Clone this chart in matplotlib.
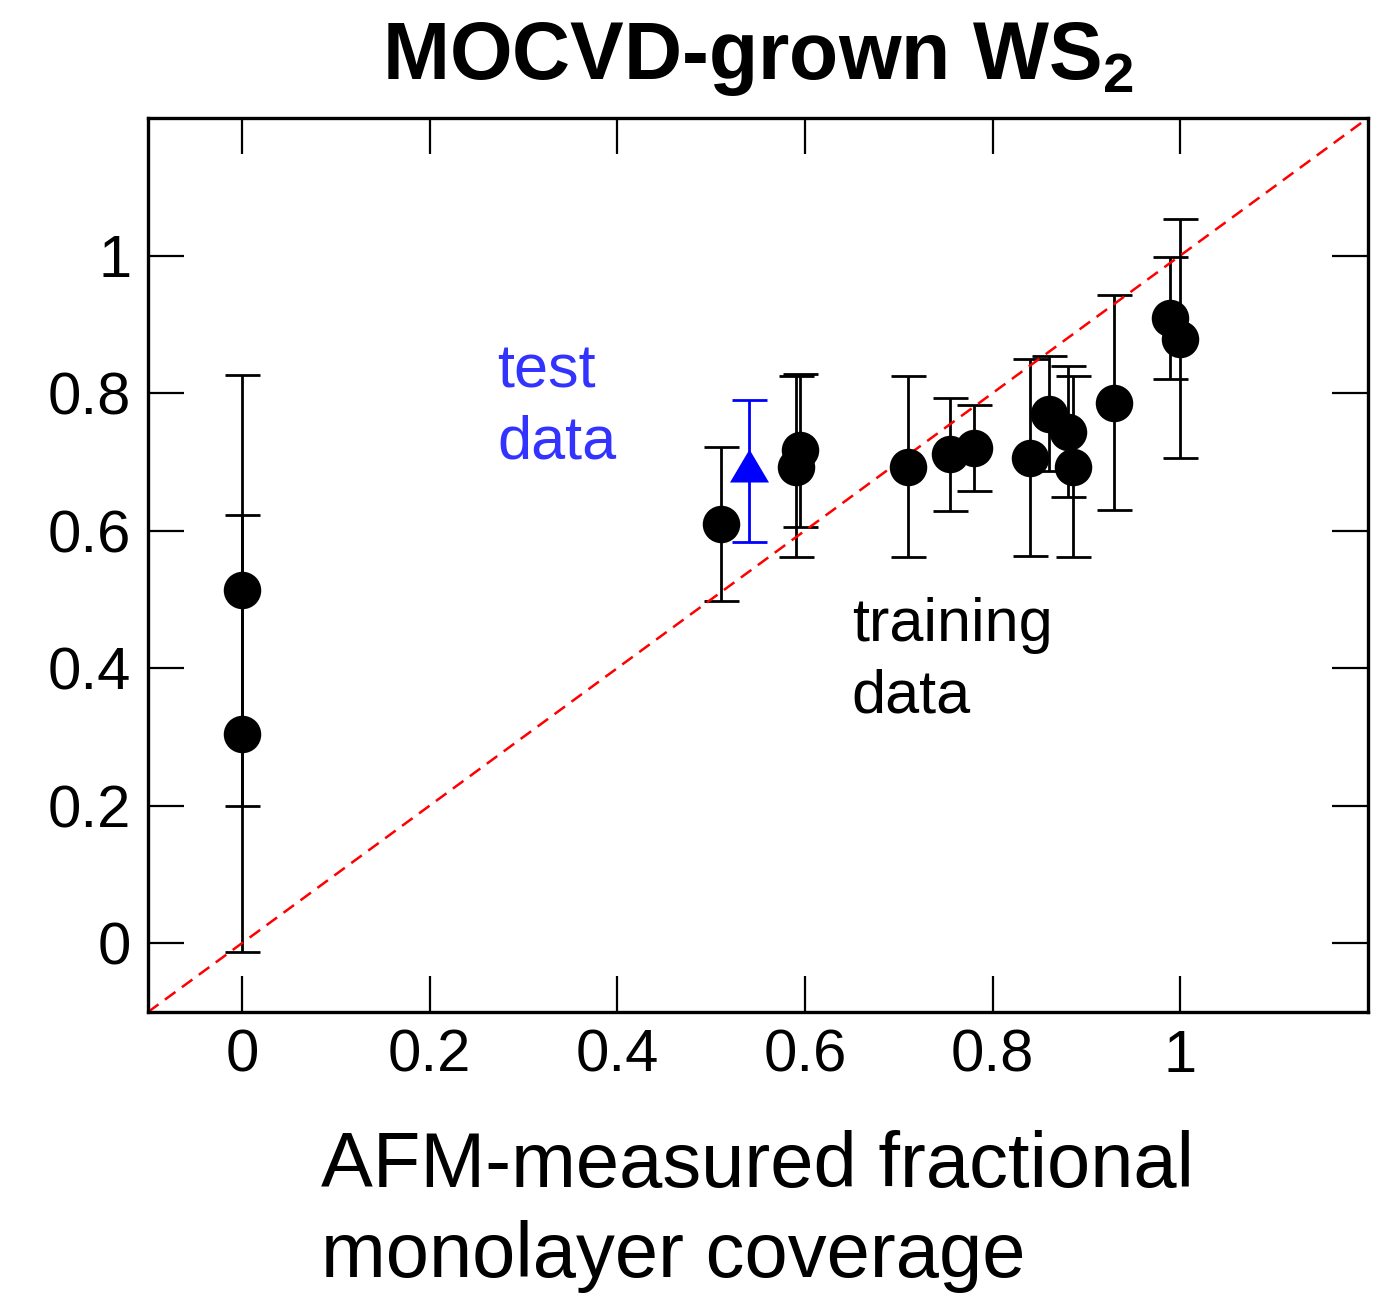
import matplotlib
matplotlib.use("Agg")
import matplotlib.pyplot as plt
from matplotlib.ticker import FixedLocator, FuncFormatter

# ---------------------------------------------------------------------------
# Data
# ---------------------------------------------------------------------------
x_train = [0.0, 0.0, 0.511, 0.590, 0.595, 0.710, 0.755, 0.780,
           0.840, 0.860, 0.880, 0.886, 0.929, 0.989, 1.000]
y_train = [0.513, 0.305, 0.610, 0.693, 0.717, 0.693, 0.711, 0.720,
           0.706, 0.770, 0.744, 0.693, 0.786, 0.909, 0.879]
err_train = [0.313, 0.318, 0.112, 0.132, 0.111, 0.132, 0.082, 0.063,
             0.143, 0.084, 0.095, 0.132, 0.156, 0.089, 0.174]

x_test = [0.540]
y_test = [0.687]
err_test = [0.103]

tick_values = [0, 0.2, 0.4, 0.6, 0.8, 1.0]
parity = [-0.1, 1.2]

# ---------------------------------------------------------------------------
# Style
# ---------------------------------------------------------------------------
plt.rcParams["font.family"] = ["Liberation Sans", "DejaVu Sans"]
plt.rcParams["mathtext.fontset"] = "custom"
plt.rcParams["mathtext.rm"] = "Liberation Sans"
plt.rcParams["mathtext.bf"] = "Liberation Sans:bold"

fig = plt.figure(figsize=(13.99, 12.94), dpi=100)
ax = fig.add_axes([0.1058, 0.2179, 0.8720, 0.6909])

# parity line
ax.plot(parity, parity, color="#ff0000", lw=1.8, dashes=(5.2, 3.2), zorder=2.5)

# training data
ax.errorbar(x_train, y_train, yerr=err_train, fmt="none", ecolor="black",
            elinewidth=2.0, capsize=12.6, capthick=2.0, zorder=2)
ax.plot(x_train, y_train, "o", color="black", ms=27, mew=0, zorder=3)

# test data (triangle with centroid at the data point)
tri = [(0, 1), (-0.886, -0.5), (0.886, -0.5), (0, 1)]
ax.errorbar(x_test, y_test, yerr=err_test, fmt="none", ecolor="#0000ff",
            elinewidth=2.0, capsize=12.6, capthick=2.0, zorder=2)
ax.plot(x_test, y_test, marker=tri, ls="none", color="#0000ff", ms=31.7,
        mew=0, zorder=3)

# multi-line text: va="baseline" pins the last line's baseline
ax.text(0.272, 0.7055, "test\ndata", color="#3333ff", fontsize=44,
        ha="left", va="baseline", linespacing=1.32)
ax.text(0.650, 0.336, "training\ndata", color="black", fontsize=44,
        ha="left", va="baseline", linespacing=1.32)

ax.set_xlim(-0.1, 1.2)
ax.set_ylim(-0.1, 1.2)

fmt = FuncFormatter(lambda v, pos: f"{v:g}")
for axis in (ax.xaxis, ax.yaxis):
    axis.set_major_locator(FixedLocator(tick_values))
    axis.set_major_formatter(fmt)
ax.tick_params(which="major", direction="in", length=26, width=1.6,
               top=True, right=True, labelsize=43, pad=12)
for sp in ax.spines.values():
    sp.set_linewidth(2.4)

ax.set_title(r"MOCVD-grown WS$_\mathbf{2}$", fontsize=58, fontweight="bold",
             pad=28)
ax.set_xlabel("AFM-measured fractional\nmonolayer coverage", fontsize=56,
              multialignment="left", va="baseline", linespacing=1.3)
ax.xaxis.set_label_coords(0.5, -0.2964)

fig.savefig("out.png", dpi=100)
